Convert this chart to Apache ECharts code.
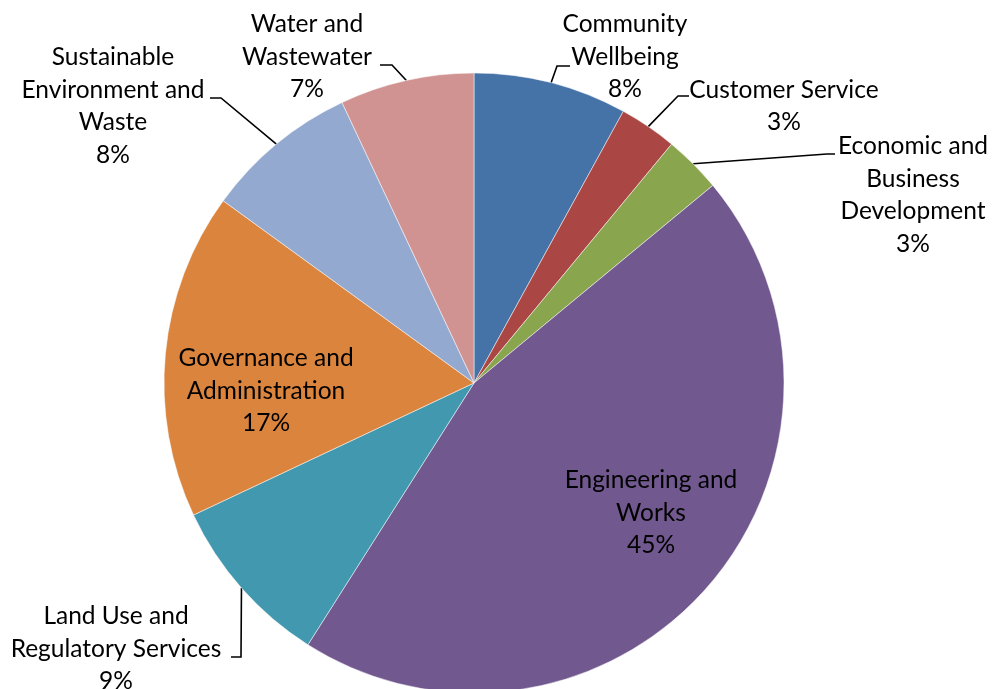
<!DOCTYPE html>
<html>
<head>
<meta charset="utf-8">
<title>Expenditure by Service Area</title>
<script src="https://cdn.jsdelivr.net/npm/echarts@6/dist/echarts.min.js"></script>
<style>
  html, body { margin: 0; padding: 0; background: #ffffff; }
  #chart { width: 992px; height: 689px; }
</style>
</head>
<body>
<div id="chart"></div>
<script>
// Service areas, clockwise from 12 o'clock
var categories = [
  'Community Wellbeing',
  'Customer Service',
  'Economic and Business Development',
  'Engineering and Works',
  'Land Use and Regulatory Services',
  'Governance and Administration',
  'Sustainable Environment and Waste',
  'Water and Wastewater'
];

// Share of total (percent)
var shares = [8, 3, 3, 45, 9, 17, 8, 7];

// Wrapped label text for each area
var labelNames = [
  'Community\nWellbeing',
  'Customer Service',
  'Economic and\nBusiness\nDevelopment',
  'Engineering and\nWorks',
  'Land Use and\nRegulatory Services',
  'Governance and\nAdministration',
  'Sustainable\nEnvironment and\nWaste',
  'Water and\nWastewater'
];

var sliceColors = ['#4572A7', '#AA4643', '#89A54E', '#71588F', '#4198AF', '#DB843D', '#93A9CF', '#D19392'];

// Label placement: centre of the text block, plus elbow/end of the leader line
var labelPlacement = [
  { x: 625, y: 57,  line: [[557, 66], [570, 66]] },
  { x: 784, y: 106, line: [[678, 96], [689, 96]] },
  { x: 913, y: 195, line: [[827, 154], [835, 154]] },
  { x: 651, y: 513, line: null },
  { x: 116, y: 649, line: [[241, 657], [231, 657]] },
  { x: 266, y: 391, line: null },
  { x: 113, y: 106, line: [[221, 98], [210, 98]] },
  { x: 307, y: 57,  line: [[392, 65], [380, 65]] }
];

var insideIdx = { 3: true, 5: true };

var chart = echarts.init(document.getElementById('chart'), null, { renderer: 'canvas' });

var data = categories.map(function (name, i) {
  return {
    name: name,
    value: shares[i],
    itemStyle: { color: sliceColors[i] },
    label: { position: insideIdx[i] ? 'inside' : 'outside' },
    labelLine: { show: !insideIdx[i] }
  };
});

chart.setOption({
  animation: false,
  backgroundColor: '#ffffff',
  series: [{
    type: 'pie',
    center: [474, 383],
    radius: 310,
    startAngle: 90,
    clockwise: true,
    percentPrecision: 0,
    avoidLabelOverlap: false,
    data: data,
    itemStyle: { borderColor: '#ffffff', borderWidth: 0.5 },
    label: {
      formatter: function (p) {
        return labelNames[p.dataIndex] + '\n' + p.percent + '%';
      },
      fontFamily: 'Lato',
      fontSize: 24.5,
      lineHeight: 32.5,
      color: '#000000',
      align: 'center'
    },
    labelLine: {
      lineStyle: { color: '#000000', width: 1.6 },
      length: 10,
      length2: 10
    },
    labelLayout: function (params) {
      var i = params.dataIndex;
      var pl = labelPlacement[i];
      var out = { x: pl.x, y: pl.y, align: 'center', verticalAlign: 'middle' };
      if (pl.line && params.labelLinePoints) {
        out.labelLinePoints = [params.labelLinePoints[0], pl.line[0], pl.line[1]];
      }
      return out;
    }
  }]
});
</script>
</body>
</html>
